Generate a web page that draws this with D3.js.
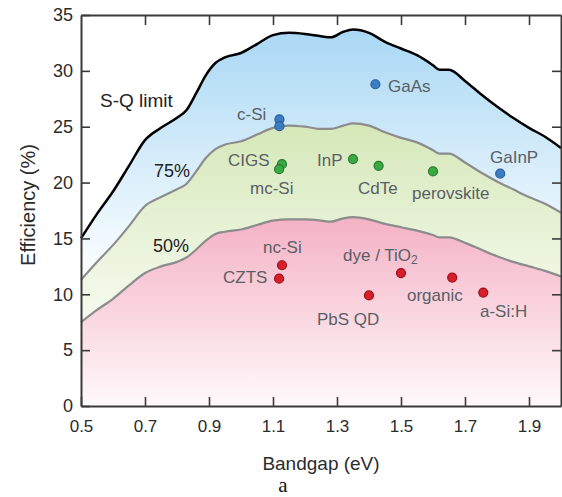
<!DOCTYPE html>
<html>
<head>
<meta charset="utf-8">
<script src="https://cdn.jsdelivr.net/npm/d3@7"></script>
<style>
  body { margin: 0; background: #fff; }
  svg { display: block; }
</style>
</head>
<body>
<div id="chart"></div>
<script>
// bandgap grid (eV) shared by the three limit curves
const bandgap = [0.5,0.55,0.6,0.65,0.7,0.75,0.8,0.83,0.86,0.89,0.92,0.95,1.0,1.05,1.1,1.15,1.2,1.25,1.28,1.32,1.35,1.4,1.45,1.5,1.55,1.6,1.62,1.65,1.7,1.75,1.8,1.85,1.9,1.95,2.0];
const sqLimit = [15.0,17.2,19.2,21.5,23.8,24.9,25.8,26.5,28.0,29.6,30.7,31.2,31.6,32.4,33.2,33.4,33.3,33.1,33.0,33.5,33.7,33.4,32.6,32.0,31.4,30.5,30.1,30.1,29.1,27.9,26.8,25.8,24.9,24.1,23.1];
const limit75 = [11.3,12.9,14.4,16.1,17.9,18.7,19.4,19.9,21.0,22.2,23.0,23.4,23.7,24.3,24.9,25.1,25.0,24.8,24.8,25.1,25.3,25.1,24.5,24.0,23.6,22.9,22.6,22.6,21.8,20.9,20.1,19.4,18.7,18.1,17.3];
const limit50 = [7.5,8.6,9.6,10.8,11.9,12.5,12.9,13.3,14.0,14.8,15.4,15.6,15.8,16.2,16.6,16.7,16.7,16.6,16.5,16.8,16.9,16.7,16.3,16.0,15.7,15.3,15.1,15.1,14.6,14.0,13.4,12.9,12.5,12.1,11.6];

// record cells
const blueCells = [
  {name:'c-Si', bg:1.12, eff:25.65},
  {name:'c-Si', bg:1.12, eff:25.05},
  {name:'GaAs', bg:1.42, eff:28.8},
  {name:'GaInP', bg:1.81, eff:20.8}
];
const greenCells = [
  {name:'CIGS', bg:1.128, eff:21.65},
  {name:'mc-Si', bg:1.119, eff:21.2},
  {name:'InP', bg:1.35, eff:22.1},
  {name:'CdTe', bg:1.43, eff:21.5},
  {name:'perovskite', bg:1.6, eff:21.0}
];
const redCells = [
  {name:'nc-Si', bg:1.128, eff:12.6},
  {name:'CZTS', bg:1.119, eff:11.4},
  {name:'PbS QD', bg:1.4, eff:9.9},
  {name:'dye / TiO2', bg:1.5, eff:11.9},
  {name:'organic', bg:1.66, eff:11.5},
  {name:'a-Si:H', bg:1.757, eff:10.15}
];

const xTicks = [0.5,0.7,0.9,1.1,1.3,1.5,1.7,1.9];
const yTicks = [0,5,10,15,20,25,30,35];

const width = 562;
const height = 497;
const font = "'Liberation Sans', Arial, sans-serif";

var svg = d3.select('#chart')
  .append('svg')
  .attr('width', width)
  .attr('height', height);

var x = d3.scaleLinear().domain([0.5, 2.0]).range([81, 561]);
var y = d3.scaleLinear().domain([0, 35]).range([406, 15]);

var defs = svg.append('defs');
function grad(id, stops) {
  var g = defs.append('linearGradient')
    .attr('id', id)
    .attr('gradientUnits', 'userSpaceOnUse')
    .attr('x1', 0).attr('x2', 0)
    .attr('y1', y(stops[0][0])).attr('y2', y(stops[1][0]));
  g.append('stop').attr('offset', 0).attr('stop-color', stops[0][1]);
  g.append('stop').attr('offset', 1).attr('stop-color', stops[1][1]);
}
grad('gBlue', [[34, '#a8d7f4'], [13, '#f8fcff']]);
grad('gGreen', [[26, '#d4e7b6'], [8, '#f6faef']]);
grad('gRed', [[17, '#f4b1c4'], [0, '#fff9fb']]);

var pts = bandgap.map(function(b, i) {
  return {bg: b, sq: sqLimit[i], p75: limit75[i], p50: limit50[i]};
});

var area = function(top, bot) {
  return d3.area()
    .x(function(d){ return x(d.bg); })
    .y0(function(d){ return bot ? y(d[bot]) : y(0); })
    .y1(function(d){ return y(d[top]); })
    .curve(d3.curveMonotoneX);
};

svg.append('path').datum(pts).attr('d', area('sq', 'p75')).attr('fill', 'url(#gBlue)');
svg.append('path').datum(pts).attr('d', area('p75', 'p50')).attr('fill', 'url(#gGreen)');
svg.append('path').datum(pts).attr('d', area('p50', null)).attr('fill', 'url(#gRed)');

var line = function(key) {
  return d3.line()
    .x(function(d){ return x(d.bg); })
    .y(function(d){ return y(d[key]); })
    .curve(d3.curveMonotoneX);
};

svg.append('path').datum(pts).attr('d', line('p50'))
  .attr('fill', 'none').attr('stroke', '#8c8c8c').attr('stroke-width', 2.2).attr('stroke-linejoin', 'round');
svg.append('path').datum(pts).attr('d', line('p75'))
  .attr('fill', 'none').attr('stroke', '#8c8c8c').attr('stroke-width', 2.2).attr('stroke-linejoin', 'round');
svg.append('path').datum(pts).attr('d', line('sq'))
  .attr('fill', 'none').attr('stroke', '#000').attr('stroke-width', 2.5).attr('stroke-linejoin', 'round');

// axes, ticks point inward on all four sides
var xAxis = svg.append('g')
  .attr('transform', 'translate(0,406)')
  .call(d3.axisBottom(x).tickValues(xTicks).tickSize(-9).tickSizeOuter(0).tickPadding(14).tickFormat(d3.format('.1f')));
var yAxis = svg.append('g')
  .attr('transform', 'translate(81,0)')
  .call(d3.axisLeft(y).tickValues(yTicks).tickSize(-9).tickSizeOuter(0).tickPadding(8));
var topAxis = svg.append('g')
  .attr('transform', 'translate(0,15)')
  .call(d3.axisTop(x).tickValues(xTicks.slice(1)).tickSize(-10).tickSizeOuter(0).tickFormat(''));
var rightAxis = svg.append('g')
  .attr('transform', 'translate(561,0)')
  .call(d3.axisRight(y).tickValues(yTicks.slice(1, -1)).tickSize(-9).tickSizeOuter(0).tickFormat(''));

[xAxis, yAxis, topAxis, rightAxis].forEach(function(a) {
  a.selectAll('path').attr('stroke', '#3a3a3a').attr('stroke-width', 2);
  a.selectAll('line').attr('stroke', '#3a3a3a').attr('stroke-width', 1.6);
  a.selectAll('text').attr('font-family', font).attr('font-size', '17px').attr('fill', '#2b2b2b');
});
yAxis.selectAll('text').attr('font-size', '18px');

// markers
function dots(data, fill, stroke) {
  svg.append('g').selectAll('circle')
    .data(data)
    .enter()
    .append('circle')
    .attr('cx', function(d){ return x(d.bg); })
    .attr('cy', function(d){ return y(d.eff); })
    .attr('r', 4.5)
    .attr('fill', fill)
    .attr('stroke', stroke)
    .attr('stroke-width', 1.2);
}
dots(blueCells, '#3b7cc4', '#2a5d98');
dots(greenCells, '#3aaa45', '#267a2e');
dots(redCells, '#d81e2a', '#9c1019');

// labels
var labels = [
  {t:'c-Si', x:237, y:120},
  {t:'GaAs', x:388, y:92},
  {t:'GaInP', x:490, y:163},
  {t:'CIGS', x:228, y:166},
  {t:'mc-Si', x:250, y:194},
  {t:'InP', x:317, y:166},
  {t:'CdTe', x:358, y:194},
  {t:'perovskite', x:412, y:199},
  {t:'nc-Si', x:263, y:253},
  {t:'CZTS', x:223, y:283},
  {t:'PbS QD', x:317, y:325},
  {t:'organic', x:407, y:301},
  {t:'a-Si:H', x:480, y:317}
];
svg.append('g').selectAll('text')
  .data(labels)
  .enter()
  .append('text')
  .attr('x', function(d){ return d.x; })
  .attr('y', function(d){ return d.y; })
  .text(function(d){ return d.t; })
  .attr('font-family', font)
  .attr('font-size', '17px')
  .attr('fill', '#5a5f66');

var dye = svg.append('text')
  .attr('x', 343).attr('y', 261)
  .attr('font-family', font).attr('font-size', '17px').attr('fill', '#5a5f66');
dye.append('tspan').text('dye / TiO');
dye.append('tspan').text('2').attr('font-size', '12px').attr('dy', 3);

svg.append('text').attr('x', 100).attr('y', 107).text('S-Q limit')
  .attr('font-family', font).attr('font-size', '19px').attr('fill', '#222');
svg.append('text').attr('x', 154).attr('y', 177).text('75%')
  .attr('font-family', font).attr('font-size', '18px').attr('fill', '#222');
svg.append('text').attr('x', 153).attr('y', 252).text('50%')
  .attr('font-family', font).attr('font-size', '18px').attr('fill', '#222');

// axis titles
svg.append('text')
  .attr('x', 321).attr('y', 470)
  .attr('text-anchor', 'middle')
  .text('Bandgap (eV)')
  .attr('font-family', font).attr('font-size', '19px').attr('fill', '#2b2b2b');
svg.append('text')
  .attr('transform', 'translate(35,205) rotate(-90)')
  .attr('text-anchor', 'middle')
  .text('Efficiency (%)')
  .attr('font-family', font).attr('font-size', '20px').attr('fill', '#2b2b2b');

svg.append('text')
  .attr('x', 283).attr('y', 492)
  .attr('text-anchor', 'middle')
  .text('a')
  .attr('font-family', "'Liberation Serif', 'DejaVu Serif', serif")
  .attr('font-size', '21px').attr('fill', '#111');
</script>
</body>
</html>
